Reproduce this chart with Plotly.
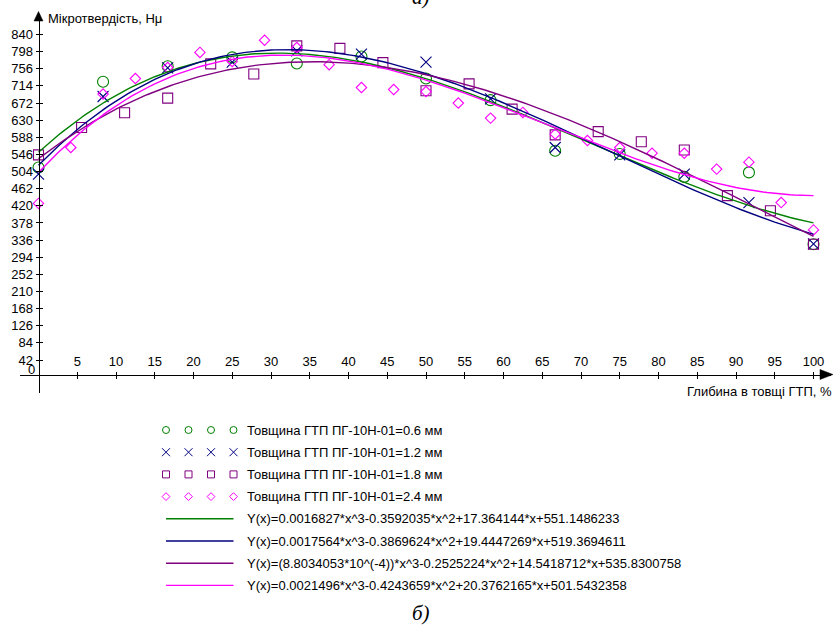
import numpy as np
import plotly.graph_objects as go

# ---------------- data ----------------
X_06 = [0, 8.33, 16.67, 25, 33.33, 41.67, 50, 58.33, 66.67, 75, 83.33, 91.67, 100]
Y_06 = [514, 724, 762, 784, 769, 786, 732, 679, 555, 547, 491, 502, 326]

X_12 = [0, 8.33, 16.67, 25, 33.33, 41.67, 50, 58.33, 66.67, 75, 83.33, 91.67, 100]
Y_12 = [498, 688, 758, 772, 800, 792, 772, 682, 563, 545, 498, 428, 327]

X_18 = [0, 5.56, 11.11, 16.67, 22.22, 27.78, 33.33, 38.89, 44.44, 50, 55.56,
        61.11, 66.67, 72.22, 77.78, 83.33, 88.89, 94.44, 100]
Y_18 = [545, 612, 648, 684, 768, 743, 812, 806, 771, 702, 719,
        657, 594, 602, 577, 557, 445, 408, 326]

X_24 = [0, 4.17, 8.33, 12.5, 16.67, 20.83, 25, 29.17, 33.33, 37.5, 41.67, 45.83,
        50, 54.17, 58.33, 62.5, 66.67, 70.83, 75, 79.17, 83.33, 87.5, 91.67, 95.83, 100]
Y_24 = [426, 563, 694, 732, 759, 796, 774, 826, 808, 766, 710, 705,
        700, 672, 635, 649, 596, 580, 563, 549, 549, 510, 527, 428, 361]

# polynomial fit coefficients printed in the chart legend (x^3, x^2, x, 1)
FIT_06 = [0.0016827, -0.3592035, 17.364144, 551.1486233]
FIT_12 = [0.0017564, -0.3869624, 19.4447269, 519.3694611]
FIT_18 = [8.8034053e-4, -0.2525224, 14.5418712, 535.8300758]
FIT_24 = [0.0021496, -0.4243659, 20.3762165, 501.5432358]

SERIES_NAMES = ["Товщина ГТП ПГ-10Н-01=0.6 мм", "Товщина ГТП ПГ-10Н-01=1.2 мм",
                "Товщина ГТП ПГ-10Н-01=1.8 мм", "Товщина ГТП ПГ-10Н-01=2.4 мм"]
FIT_NAMES = ["Y(x)=0.0016827*x^3-0.3592035*x^2+17.364144*x+551.1486233",
             "Y(x)=0.0017564*x^3-0.3869624*x^2+19.4447269*x+519.3694611",
             "Y(x)=(8.8034053*10^(-4))*x^3-0.2525224*x^2+14.5418712*x+535.8300758",
             "Y(x)=0.0021496*x^3-0.4243659*x^2+20.3762165*x+501.5432358"]

X_TICKS = [5, 10, 15, 20, 25, 30, 35, 40, 45, 50, 55, 60, 65, 70, 75, 80, 85, 90, 95, 100]
Y_TICKS = [42, 84, 126, 168, 210, 252, 294, 336, 378, 420, 462, 504, 546, 588,
           630, 672, 714, 756, 798, 840]

X_TITLE = "Глибина в товщі ГТП, %"
Y_TITLE = "Мікротвердість, Hμ"

# ---------------- styling / geometry ----------------
W, H = 836, 628
COLORS = ["#008000", "#000080", "#800080", "#FF00FF"]
SYMBOLS = ["circle-open", "x-thin-open", "square-open", "diamond-open"]
SIZES = [11, 11, 10, 8]
LEG_SIZES = [7, 8, 7, 6]
FONT = "Liberation Sans, Arial, sans-serif"
FS = 13

PX_X0, PX_PER_X = 38.5, 7.75      # pixel of x=0, pixels per unit
PX_Y0, PX_PER_Y = 377.2, 0.408    # pixel of y=0, pixels per unit
PLOT_L, PLOT_R, PLOT_T, PLOT_B = 20, 831, 14, 393
XAXIS_PX = 374.5


def fx(px):
    return px / W


def fy(py):
    return 1 - py / H


x_range = [(PLOT_L - PX_X0) / PX_PER_X, (PLOT_R - PX_X0) / PX_PER_X]
y_range = [(PX_Y0 - PLOT_B) / PX_PER_Y, (PX_Y0 - PLOT_T) / PX_PER_Y]

fig = go.Figure()

xs = [X_06, X_12, X_18, X_24]
ys = [Y_06, Y_12, Y_18, Y_24]
fits = [FIT_06, FIT_12, FIT_18, FIT_24]

for i in range(4):
    fig.add_trace(go.Scatter(x=xs[i], y=ys[i], mode="markers",
                             marker=dict(symbol=SYMBOLS[i], size=SIZES[i], color=COLORS[i],
                                         line=dict(width=1.1, color=COLORS[i])),
                             showlegend=False, cliponaxis=False))

xgrid = np.linspace(0, 100, 201)
for i in range(4):
    fig.add_trace(go.Scatter(x=xgrid, y=np.polyval(fits[i], xgrid), mode="lines",
                             line=dict(color=COLORS[i], width=1.4), showlegend=False))

# dummy trace so the overlay axes (for crossing ticks) exist
fig.add_trace(go.Scatter(x=[], y=[], xaxis="x2", yaxis="y2", showlegend=False))

# ---------------- custom legend (4 repeated symbols like the original) ----------------
LEG_COL0, LEG_COL_STEP = 166, 22.5
LEG_ROW0, LEG_ROW_STEP = 430, 22.2
cols = [0, 1, 2, 3]
for i in range(4):
    fig.add_trace(go.Scatter(x=cols, y=[i] * 4, mode="markers", xaxis="x3", yaxis="y3",
                             marker=dict(symbol=SYMBOLS[i], size=LEG_SIZES[i], color=COLORS[i],
                                         line=dict(width=1, color=COLORS[i])),
                             showlegend=False, hoverinfo="skip"))
for i in range(4):
    fig.add_trace(go.Scatter(x=[cols[0], cols[-1]], y=[4 + i] * 2, mode="lines",
                             xaxis="x3", yaxis="y3",
                             line=dict(color=COLORS[i], width=1.4),
                             showlegend=False, hoverinfo="skip"))

annotations = []
for r, txt in enumerate(SERIES_NAMES + FIT_NAMES):
    annotations.append(dict(x=fx(245), y=r, xref="paper", yref="y3", text=txt,
                            showarrow=False, xanchor="left", yanchor="middle",
                            font=dict(family=FONT, size=FS, color="black")))

annotations += [
    dict(x=fx(45.5), y=fy(18.5), xref="paper", yref="paper", text=Y_TITLE,
         showarrow=False, xanchor="left", yanchor="middle",
         font=dict(family=FONT, size=FS, color="black")),
    dict(x=fx(834), y=fy(391.5), xref="paper", yref="paper", text=X_TITLE,
         showarrow=False, xanchor="right", yanchor="middle",
         font=dict(family=FONT, size=FS, color="black")),
    dict(x=fx(37), y=fy(369.5), xref="paper", yref="paper", text="0",
         showarrow=False, xanchor="right", yanchor="middle",
         font=dict(family=FONT, size=FS, color="black")),
    dict(x=fx(421), y=fy(613), xref="paper", yref="paper", text="<i>б)</i>",
         showarrow=False, xanchor="center", yanchor="middle",
         font=dict(family="Liberation Serif, Times New Roman, serif", size=21, color="black")),
    dict(x=fx(421), y=fy(-3), xref="paper", yref="paper", text="<i>а)</i>",
         showarrow=False, xanchor="center", yanchor="middle",
         font=dict(family="Liberation Serif, Times New Roman, serif", size=21, color="black")),
]

# arrow heads
y_arrow = "M {} {} L {} {} L {} {} Z".format(fx(38.5), fy(11.5), fx(34), fy(21), fx(43), fy(21))
x_arrow = "M {} {} L {} {} L {} {} Z".format(fx(833), fy(XAXIS_PX), fx(820), fy(XAXIS_PX - 5),
                                          fx(820), fy(XAXIS_PX + 5))
shapes = [dict(type="path", path=y_arrow, xref="paper", yref="paper",
               fillcolor="black", line=dict(color="black", width=0.5)),
          dict(type="path", path=x_arrow, xref="paper", yref="paper",
               fillcolor="black", line=dict(color="black", width=0.5))]

tickfont = dict(family=FONT, size=FS, color="black")
common = dict(showgrid=False, zeroline=False, fixedrange=True)

fig.update_layout(
    width=W, height=H, margin=dict(l=0, r=0, t=0, b=0),
    paper_bgcolor="white", plot_bgcolor="rgba(0,0,0,0)",
    showlegend=False, annotations=annotations, shapes=shapes,
    xaxis=dict(domain=[fx(PLOT_L), fx(PLOT_R)], range=x_range, anchor="free",
               position=fy(XAXIS_PX), side="top", showline=True, linecolor="black",
               linewidth=1, ticks="outside", ticklen=3, tickwidth=1, tickcolor="black",
               tickvals=X_TICKS, tickfont=tickfont, **common),
    xaxis2=dict(overlaying="x", range=x_range, anchor="free", position=fy(XAXIS_PX),
                side="bottom", showline=False, ticks="outside", ticklen=3, tickwidth=1,
                tickcolor="black", tickvals=X_TICKS, showticklabels=False, **common),
    yaxis=dict(domain=[fy(PLOT_B), fy(PLOT_T)], range=y_range, anchor="free",
               position=fx(PX_X0), side="left", showline=True, linecolor="black",
               linewidth=1, ticks="outside", ticklen=3, tickwidth=1, tickcolor="black",
               tickvals=Y_TICKS, tickfont=tickfont, **common),
    yaxis2=dict(overlaying="y", range=y_range, anchor="free", position=fx(PX_X0),
                side="right", showline=False, ticks="outside", ticklen=3, tickwidth=1,
                tickcolor="black", tickvals=Y_TICKS, showticklabels=False, **common),
    xaxis3=dict(domain=[0, 1], range=[-LEG_COL0 / LEG_COL_STEP, (W - LEG_COL0) / LEG_COL_STEP],
                visible=False, anchor="y3", **common),
    yaxis3=dict(domain=[0, 1], range=[(H - LEG_ROW0) / LEG_ROW_STEP, -LEG_ROW0 / LEG_ROW_STEP],
                visible=False, anchor="x3", **common),
)

fig.write_html("out.html", config={"displayModeBar": False},
               post_script="document.body.style.margin='0px';")
